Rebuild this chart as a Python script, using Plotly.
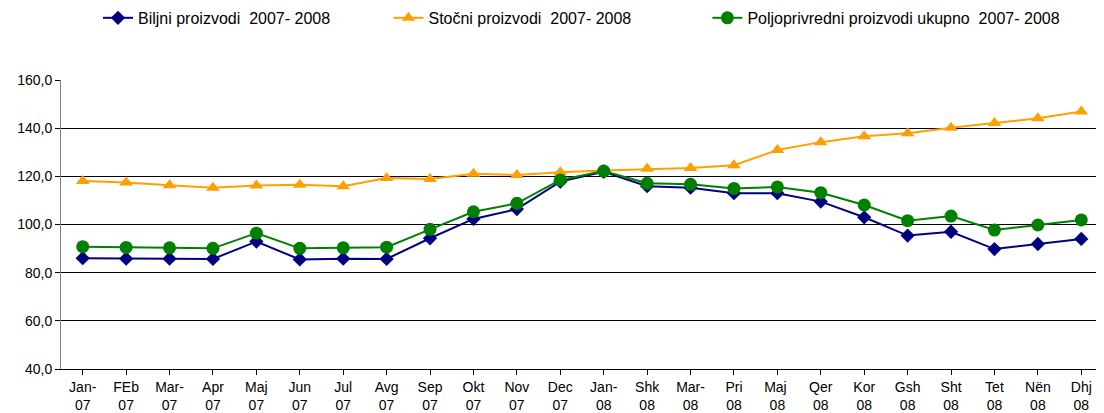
import plotly.graph_objects as go

categories = ["Jan-<br>07", "FEb<br>07", "Mar-<br>07", "Apr<br>07", "Maj<br>07", "Jun<br>07",
              "Jul<br>07", "Avg<br>07", "Sep<br>07", "Okt<br>07", "Nov<br>07", "Dec<br>07",
              "Jan-<br>08", "Shk<br>08", "Mar-<br>08", "Pri<br>08", "Maj <br>08", "Qer<br>08",
              "Kor<br>08", "Gsh<br>08", "Sht<br>08", "Tet<br>08", "Nën<br>08", "Dhj<br>08"]

biljni = [86.0, 85.8, 85.8, 85.7, 92.9, 85.5, 85.8, 85.7, 94.3, 102.3, 106.4, 117.8,
          121.9, 115.9, 115.3, 113.0, 113.0, 109.5, 103.0, 95.4, 97.0, 89.8, 91.9, 94.0]
stocni = [118.1, 117.4, 116.3, 115.3, 116.2, 116.5, 115.9, 119.3, 118.9, 121.1, 120.6, 121.7,
          122.4, 123.1, 123.5, 124.6, 130.9, 134.2, 136.6, 137.9, 140.2, 142.1, 144.1, 146.9]
ukupno = [90.8, 90.5, 90.3, 90.1, 96.4, 90.1, 90.3, 90.6, 98.0, 105.3, 108.8, 118.5,
          122.2, 117.1, 116.7, 115.0, 115.6, 113.2, 108.1, 101.6, 103.5, 97.7, 99.8, 101.9]

names = ["Biljni proizvodi\u00a0 2007- 2008" + "\u00a0" * 12,
         "Stočni proizvodi\u00a0 2007- 2008" + "\u00a0" * 16,
         "Poljoprivredni proizvodi ukupno\u00a0 2007- 2008"]

x = list(range(len(categories)))

fig = go.Figure()
fig.add_trace(go.Scatter(x=x, y=biljni, name=names[0], mode="lines+markers",
                         line=dict(color="#000080", width=2),
                         marker=dict(symbol="diamond", size=11, color="#000080")))
fig.add_trace(go.Scatter(x=x, y=stocni, name=names[1], mode="lines+markers",
                         line=dict(color="#FFA000", width=2),
                         marker=dict(symbol="triangle-up", size=12, color="#FFA000")))
fig.add_trace(go.Scatter(x=x, y=ukupno, name=names[2], mode="lines+markers",
                         line=dict(color="#008000", width=2),
                         marker=dict(symbol="circle", size=13, color="#008000")))

# the page body has an 8px margin; margins compensate so the plot sits where the reference's does
fig.update_layout(
    width=1104, height=413,
    margin=dict(l=53, r=9, t=72, b=52),
    paper_bgcolor="white", plot_bgcolor="white",
    font=dict(family="Liberation Sans, Arial, sans-serif", size=14, color="black"),
    separators=", ",
    legend=dict(orientation="h", x=0.0355, xanchor="left", y=0.976, yanchor="middle",
                yref="container", font=dict(size=16), bgcolor="rgba(0,0,0,0)"),
    showlegend=True,
)

fig.update_xaxes(
    range=[-0.5, len(categories) - 0.5],
    tickmode="array", tickvals=x, ticktext=categories,
    showline=True, linecolor="black", linewidth=1,
    ticks="outside", ticklen=5, tickcolor="black",
    showgrid=False, zeroline=False, automargin=False,
    tickfont=dict(size=14),
)
fig.update_yaxes(
    range=[40, 160], dtick=20, tickformat=".1f",
    showline=True, linecolor="#808080", linewidth=1,
    ticks="outside", ticklen=5, tickcolor="black",
    showgrid=True, gridcolor="black", gridwidth=1,
    zeroline=False, automargin=False, tickfont=dict(size=14),
)

fig.write_html("out.html")
